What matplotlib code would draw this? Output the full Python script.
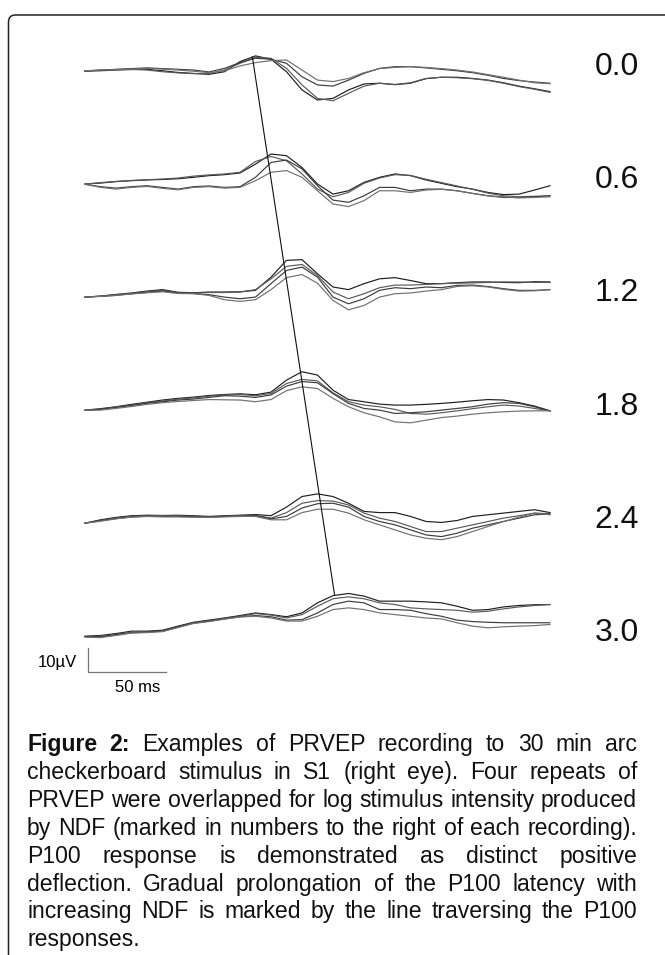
import matplotlib.pyplot as plt
import numpy as np
from matplotlib.patches import FancyBboxPatch
from matplotlib.transforms import IdentityTransform

plt.rcParams['font.family'] = ['Liberation Sans', 'DejaVu Sans']

# time axis of the averaged responses (ms)
times_ms = list(range(0, 301, 10))

ndf_labels = ['0.0', '0.6', '1.2', '1.8', '2.4', '3.0']

# four repeats per NDF step, amplitude in uV relative to the row baseline
rec_00 = [
    [0, 0.1, 0.4, 0.6, 0.7, 0.1, -0.6, -1.0, -1.4, -0.3, 3.9, 6.3, 4.9, -0.3, -7.9, -12.1,
     -11.4, -7.9, -5.4, -5.1, -5.7, -5.1, -3.2, -2.6, -2.6, -3.1, -3.8, -4.9, -6.3, -7.4, -8.6],
    [-0.1, 0.3, 0.6, 0.7, 0.4, -0.3, -0.8, -1.1, -1.1, 0.4, 3.2, 5.7, 5.3, 1.1, -5.8, -11.4,
     -12.4, -9.3, -6.3, -5.1, -5.6, -4.9, -3.1, -2.6, -2.8, -3.2, -3.9, -5.1, -6.5, -7.6, -8.9],
    [0, 0.4, 0.7, 1.0, 1.3, 1.0, 0.7, 0.4, -0.4, 1.1, 3.5, 5.3, 4.9, 3.2, -2.4, -5.8,
     -6.3, -3.8, -1.0, 1.1, 1.8, 1.8, 1.3, 0.7, 0.1, -0.7, -1.8, -3.1, -4.0, -4.6, -5.1],
    [0.1, 0.4, 0.6, 0.8, 1.1, 0.8, 0.4, -0.1, -0.7, 0.1, 2.1, 3.5, 4.3, 4.6, 0.4, -3.8,
     -4.4, -3.1, -0.7, 1.0, 1.5, 1.8, 1.5, 1.0, 0.4, -0.4, -1.5, -2.6, -3.8, -4.9, -5.3],
]
rec_06 = [
    [0, 0.4, 1.0, 1.4, 1.7, 1.9, 2.2, 2.8, 3.5, 3.9, 4.6, 8.3, 12.5, 11.8, 6.9, 0,
     -4.2, -2.8, 0.7, 2.8, 4.2, 3.5, 1.7, 0.3, -1.1, -2.1, -3.5, -4.4, -4.2, -2.5, -0.7],
    [0, 0.6, 1.1, 1.5, 1.8, 2.1, 2.5, 3.3, 3.8, 4.2, 4.9, 9.4, 11.5, 9.7, 4.2, -2.1,
     -5.3, -3.5, 0.3, 2.5, 3.9, 3.6, 2.0, 0.6, -0.8, -2.2, -3.8, -4.9, -5.3, -5.1, -4.9],
    [-0.1, -1.1, -1.7, -1.1, -0.7, -1.4, -2.1, -1.1, -0.8, -1.4, -1.1, 2.8, 9.0, 10.0, 6.3, -0.7,
     -6.7, -7.6, -4.9, -1.4, -1.4, -2.8, -2.1, -2.1, -2.8, -3.9, -4.9, -5.6, -5.6, -5.3, -4.9],
    [-0.1, -1.4, -2.1, -1.4, -1.0, -1.8, -2.4, -1.4, -1.1, -1.7, -1.4, 1.4, 4.9, 5.6, 2.8, -2.8,
     -8.3, -9.4, -6.9, -2.8, -2.8, -3.5, -2.5, -2.2, -2.8, -3.9, -4.9, -5.3, -5.8, -5.6, -5.3],
]
rec_12 = [
    [0, 0.4, 1.1, 1.7, 2.5, 3.1, 2.0, 1.8, 2.1, 2.1, 2.2, 2.8, 8.3, 15.3, 15.6, 9.7,
     4.2, 3.1, 5.6, 7.6, 8.1, 6.9, 5.6, 5.6, 6.0, 6.3, 6.3, 6.1, 6.0, 6.4, 6.3],
    [0, 0.4, 1.0, 1.5, 2.2, 2.8, 1.8, 1.7, 1.9, 1.9, 2.1, 3.1, 7.6, 12.8, 13.6, 9.0,
     2.1, -0.7, 1.4, 3.9, 5.0, 5.0, 5.3, 5.6, 5.8, 5.9, 6.1, 6.3, 6.3, 6.1, 6.1],
    [0, 0.3, 0.7, 1.4, 1.9, 2.5, 1.7, 1.5, 1.0, 0, -0.7, 0, 5.6, 11.1, 12.5, 8.3,
     0, -2.8, -0.7, 2.8, 3.9, 3.5, 4.2, 3.9, 4.9, 5.0, 4.4, 3.5, 2.8, 2.8, 3.1],
    [0, 0.3, 0.7, 1.3, 1.8, 2.2, 1.5, 1.4, 0.7, -1.1, -1.8, -1.1, 3.1, 8.1, 9.4, 5.8,
     -1.4, -5.3, -3.5, 0, 1.4, 1.7, 2.5, 3.1, 4.4, 4.7, 4.2, 3.2, 2.5, 2.6, 3.1],
]
rec_18 = [
    [0, 0.6, 1.4, 2.4, 3.3, 4.2, 4.9, 5.4, 6.1, 6.5, 6.8, 6.4, 7.5, 12.5, 16.0, 14.6,
     8.3, 4.4, 3.5, 2.5, 2.1, 2.1, 2.4, 2.8, 3.3, 3.9, 4.4, 4.2, 3.1, 1.7, -0.3],
    [0, 0.4, 1.3, 2.1, 3.1, 3.8, 4.6, 5.1, 5.8, 6.3, 6.5, 6.0, 6.9, 11.1, 12.8, 12.2,
     7.2, 3.5, 2.1, 1.4, 0.3, -1.4, -1.7, -1.1, -0.3, 0.6, 1.4, 2.1, 1.7, 0.7, -0.3],
    [-0.1, 0.3, 1.1, 1.9, 2.8, 3.5, 4.2, 4.6, 5.3, 6.0, 5.8, 5.3, 6.3, 10.0, 11.9, 11.4,
     6.9, 2.8, 0.7, 0, -1.4, -1.1, -0.7, 0, 0.7, 1.4, 2.5, 3.1, 2.8, 1.4, -0.3],
    [-0.1, 0, 0.7, 1.5, 2.4, 3.1, 3.6, 4.0, 4.4, 4.3, 4.2, 3.5, 4.4, 8.1, 9.7, 9.0,
     4.9, 1.4, -1.1, -2.8, -4.9, -5.3, -4.2, -3.1, -2.5, -1.7, -1.1, -0.7, -0.4, -0.3, -0.3],
]
rec_24 = [
    [0, 1.4, 2.4, 3.1, 3.3, 3.2, 3.3, 3.1, 2.8, 3.1, 3.3, 3.6, 3.1, 6.7, 11.1, 12.2,
     11.1, 8.3, 4.9, 4.4, 4.4, 2.8, 0.7, 0.3, 1.1, 2.8, 3.5, 4.2, 4.9, 5.6, 4.4],
    [0, 1.1, 2.1, 2.8, 3.2, 3.1, 3.1, 2.8, 2.6, 2.9, 3.2, 3.3, 2.1, 4.4, 8.3, 9.4,
     9.2, 7.6, 4.2, 2.1, 0.7, -1.4, -3.5, -3.5, -2.1, -0.7, 0.7, 2.1, 3.1, 4.2, 3.9],
    [0, 1.0, 1.9, 2.6, 2.9, 2.8, 2.8, 2.6, 2.5, 2.8, 2.9, 3.1, 1.8, 2.8, 6.3, 8.1,
     8.3, 6.7, 2.8, 0.7, -0.7, -2.8, -4.9, -5.6, -4.2, -2.1, -0.7, 0.7, 2.1, 3.5, 3.8],
    [0, 0.8, 1.8, 2.5, 2.8, 2.6, 2.6, 2.5, 2.4, 2.6, 2.8, 2.8, 1.4, 1.4, 4.4, 5.8,
     5.8, 4.2, 1.4, -0.7, -2.8, -4.9, -6.3, -6.9, -5.6, -3.5, -1.4, 0.7, 2.5, 4.2, 3.5],
]
rec_30 = [
    [0, 0.3, 1.1, 2.1, 2.1, 2.5, 4.2, 5.8, 6.7, 7.6, 8.6, 9.7, 9.0, 8.1, 9.7, 13.9,
     16.9, 17.8, 16.7, 14.6, 14.6, 14.6, 14.3, 13.9, 12.5, 10.8, 11.1, 12.2, 12.8, 13.1, 13.2],
    [-0.3, 0, 0.7, 1.7, 1.8, 2.2, 3.9, 5.6, 6.4, 7.4, 8.3, 9.4, 8.8, 7.6, 9.0, 12.5,
     15.6, 16.4, 15.6, 13.9, 13.2, 11.8, 11.4, 11.1, 10.8, 10.0, 10.4, 11.4, 12.2, 12.8, 13.2],
    [-0.1, -0.3, 0.6, 1.4, 1.7, 2.1, 3.8, 5.4, 6.3, 7.2, 8.1, 8.6, 8.1, 6.7, 6.9, 9.7,
     13.2, 14.6, 13.9, 11.1, 11.1, 10.8, 9.4, 8.3, 6.7, 6.1, 5.8, 5.6, 5.6, 5.6, 5.6],
    [-0.4, -0.6, 0.3, 1.3, 1.5, 1.9, 3.6, 5.3, 6.1, 7.1, 8.0, 8.3, 7.6, 6.3, 6.3, 8.3,
     11.1, 11.8, 11.1, 9.7, 9.0, 8.3, 7.6, 7.2, 5.6, 4.2, 3.5, 3.9, 4.2, 4.4, 4.9],
]
recordings = [rec_00, rec_06, rec_12, rec_18, rec_24, rec_30]

# P100 latency line: first and last recording (ms, uV above own baseline)
p100_ms = [108, 161]
p100_uv = [5.8, 17.2]

caption_lines = [
    'Figure 2: Examples of PRVEP recording to 30 min arc',
    'checkerboard stimulus in S1 (right eye). Four repeats of',
    'PRVEP were overlapped for log stimulus intensity produced',
    'by NDF (marked in numbers to the right of each recording).',
    'P100 response is demonstrated as distinct positive',
    'deflection. Gradual prolongation of the P100 latency with',
    'increasing NDF is marked by the line traversing the P100',
    'responses.',
]

W, H = 665, 955
PX_MS, PX_UV = 1.55, 2.4
X0, Y0 = 85, 71          # pixel position of t=0, first baseline
ROW_GAP = 47.1           # uV between rows
trace_colors = ['#1e1e1e', '#5a5a5a', '#3c3c3c', '#707070']

fig = plt.figure(figsize=(W / 100, H / 100), dpi=100)
ax = fig.add_axes([0, 0, 1, 1])
ax.set_xlim(-X0 / PX_MS, (W - X0) / PX_MS)
ax.set_ylim((Y0 - H) / PX_UV, Y0 / PX_UV)
ax.axis('off')

for i, (label, traces) in enumerate(zip(ndf_labels, recordings)):
    off = -ROW_GAP * i
    for j, tr in enumerate(traces):
        ax.plot(times_ms, np.array(tr) + off, color=trace_colors[j], lw=0.85)
    ax.text((617 - X0) / PX_MS, off + 1.5, label, fontsize=23,
            ha='center', va='center', color='#111')

# line through the P100 peaks
ax.plot(p100_ms, [p100_uv[0], p100_uv[1] - ROW_GAP * (len(ndf_labels) - 1)],
        color='#111', lw=0.8)

# scale bar 10 uV / 50 ms
sb_t, sb_v = 2, -250.4
ax.plot([sb_t, sb_t, sb_t + 50], [sb_v + 10, sb_v, sb_v], color='#777', lw=0.9)
ax.text(sb_t - 7, sb_v + 4, '10\u00b5V', fontsize=12, ha='right', va='center')
ax.text(sb_t + 32, sb_v - 6.3, '50 ms', fontsize=12, ha='center', va='center')

# rounded frame running off the right and bottom edge
frame = FancyBboxPatch((8.5, -60), 720, H - 15 + 60,
                       boxstyle='round,pad=0,rounding_size=7',
                       fill=False, ec='#222', lw=1.1,
                       transform=IdentityTransform())
fig.add_artist(frame)

# justified caption
renderer = fig.canvas.get_renderer()
cap_left, cap_right = 27, 637
cap_size = 16.6
base0, lead = 751, 27.9
for k, line in enumerate(caption_lines):
    words = line.split()
    objs = []
    for n, w in enumerate(words):
        bold = k == 0 and n < 2
        t = fig.text(0, 1 - (base0 + lead * k) / H, w, fontsize=cap_size,
                     fontweight='bold' if bold else 'normal', va='baseline',
                     color='#111')
        objs.append(t)
    widths = [o.get_window_extent(renderer).width for o in objs]
    if k < len(caption_lines) - 1 and len(objs) > 1:
        gap = (cap_right - cap_left - sum(widths)) / (len(objs) - 1)
    else:
        gap = cap_size * 100 / 72 * 0.278
    x = cap_left
    for o, w in zip(objs, widths):
        o.set_x(x / W)
        x += w + gap

fig.savefig('out.png', dpi=100)
